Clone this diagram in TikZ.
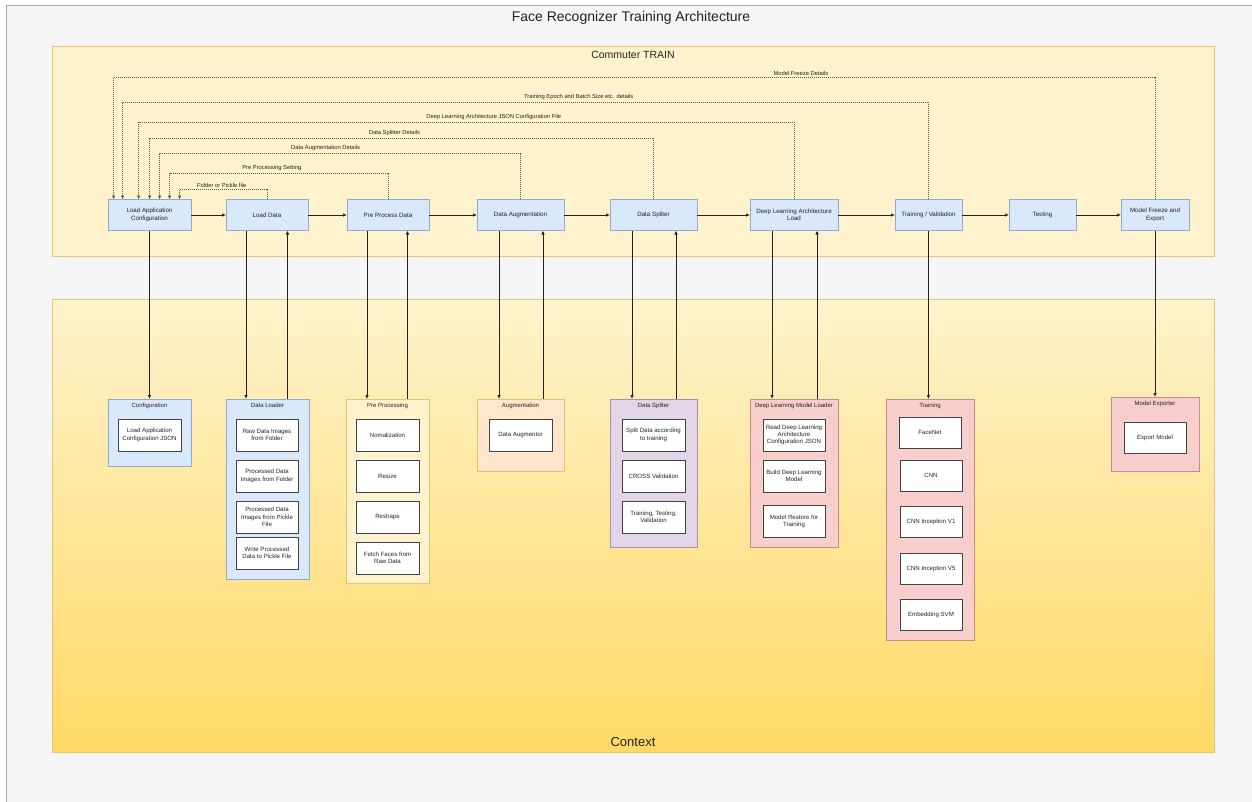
\documentclass[tikz,border=0pt]{standalone}
\usepackage{fontspec}
\setmainfont{Liberation Sans}
\usetikzlibrary{arrows.meta,calc}

\definecolor{pagebg}{HTML}{F5F5F5}
\definecolor{framec}{HTML}{A6A6A6}
\definecolor{ylfill}{HTML}{FFF2CC}
\definecolor{ylline}{HTML}{E0C774}
\definecolor{ylbottom}{HTML}{FFD966}
\definecolor{blfill}{HTML}{DAE8FC}
\definecolor{blline}{HTML}{8EA9D3}
\definecolor{orfill}{HTML}{FFE6CC}
\definecolor{orline}{HTML}{E8C266}
\definecolor{pufill}{HTML}{E1D5E7}
\definecolor{puline}{HTML}{A98CB8}
\definecolor{rdfill}{HTML}{F8CECC}
\definecolor{rdline}{HTML}{C98A87}
\definecolor{inkc}{HTML}{222222}
\definecolor{dotc}{HTML}{5A5A5A}

\tikzset{
  every node/.style={text=inkc},
  mainbox/.style={draw=blline, fill=blfill, line width=0.8pt, minimum height=31pt,
    align=center, inner sep=1pt, font=\fontsize{6.2}{7.4}\selectfont},
  group/.style={line width=0.8pt, inner sep=0pt},
  gtitle/.style={anchor=north, inner sep=0pt, font=\fontsize{6}{7}\selectfont},
  item/.style={draw=inkc!85, fill=white, line width=0.8pt, minimum width=63pt,
    minimum height=32pt, align=center, inner sep=1pt, font=\fontsize{6.1}{7.3}\selectfont},
  arr/.style={draw=inkc, line width=0.7pt, -{Triangle[length=3.6pt,width=3pt]}},
  fb/.style={draw=dotc, line width=0.6pt, dash pattern=on 1pt off 1pt,
    -{Triangle[length=3.6pt,width=3pt]}},
  lbl/.style={anchor=south, inner sep=1.6pt, font=\fontsize{5.8}{7}\selectfont},
}

\begin{document}
\begin{tikzpicture}[x=1pt, y=-1pt]
\useasboundingbox (0,0) rectangle (1252,801);
\fill[white] (0,0) rectangle (1252,801);
\draw[fill=pagebg, draw=framec, line width=0.8pt] (6,5) rectangle (1270,820);

\node (title) at (631,18) {\fontsize{14}{16}\selectfont Face Recognizer Training Architecture};

% the two swimlanes
\node[draw=ylline, fill=ylfill, line width=0.8pt, minimum width=1162pt, minimum height=210pt, inner sep=0pt]
  (train) at (633,151) {};
\node (train-t) at (633,55) {\fontsize{10.5}{12}\selectfont Commuter TRAIN};
\node[draw=ylline, top color=ylfill, bottom color=ylbottom, line width=0.8pt,
  minimum width=1162pt, minimum height=453pt, inner sep=0pt] (ctx) at (633,525.5) {};
\node (ctx-t) at (633,742) {\fontsize{13}{15}\selectfont Context};

% pipeline steps
\node[mainbox, minimum width=83pt] (lac)  at (149.5,215) {Load Application\\Configuration};
\node[mainbox, minimum width=82pt] (ld)   at (267,215)   {Load Data};
\node[mainbox, minimum width=82pt] (ppd)  at (388,215)   {Pre Process Data};
\node[mainbox, minimum width=87pt] (da)   at (520.5,215) {Data Augmentation};
\node[mainbox, minimum width=87pt] (ds)   at (653.5,215) {Data Spliter};
\node[mainbox, minimum width=88pt] (dla)  at (794,215)   {Deep Learning Architecture\\Load};
\node[mainbox, minimum width=67pt] (tv)   at (928.5,215) {Training / Validation};
\node[mainbox, minimum width=67pt] (test) at (1042.5,215){Testing};
\node[mainbox, minimum width=68pt] (mfe)  at (1155,215)  {Model Freeze and\\Export};

\foreach \a/\b in {lac/ld, ld/ppd, ppd/da, da/ds, ds/dla, dla/tv, tv/test, test/mfe}
  \draw[arr] (\a) -- (\b);

% configuration feedback into the first step
\coordinate (in1) at ([xshift=6pt]lac.north west);
\coordinate (in2) at ([xshift=15pt]lac.north west);
\coordinate (in3) at ([xshift=31pt]lac.north west);
\coordinate (in4) at ([xshift=42pt]lac.north west);
\coordinate (in5) at ([xshift=52pt]lac.north west);
\coordinate (in6) at ([xshift=62pt]lac.north west);
\coordinate (in7) at ([xshift=72pt]lac.north west);
\coordinate (h1) at (0,77);
\coordinate (h2) at (0,102);
\coordinate (h3) at (0,122);
\coordinate (h4) at (0,138);
\coordinate (h5) at (0,153);
\coordinate (h6) at (0,173);
\coordinate (h7) at (0,189);

\draw[fb] (mfe.north) -- (mfe.north |- h1) -| node[lbl, pos=0.170] {Model Freeze Details} (in1);
\draw[fb] (tv.north)  -- (tv.north |- h2)  -| node[lbl, pos=0.217] {Training Epoch and Batch Size etc. details} (in2);
\draw[fb] (dla.north) -- (dla.north |- h3) -| node[lbl, pos=0.229] {Deep Learning Architecture JSON Configuration File} (in3);
\draw[fb] (ds.north)  -- (ds.north |- h4)  -| node[lbl, pos=0.257] {Data Splitter Details} (in4);
\draw[fb] (da.north)  -- (da.north |- h5)  -| node[lbl, pos=0.270] {Data Augmentation Details} (in5);
\draw[fb] (ppd.north) -- (ppd.north |- h6) -| node[lbl, pos=0.266] {Pre Processing Setting} (in6);
\draw[fb] (ld.north)  -- (ld.north |- h7)  -| node[lbl, pos=0.259] {Folder or Pickle file} (in7);

% component groups
\node[group, draw=blline, fill=blfill, minimum width=83pt, minimum height=67pt]  (cfg) at (149.5,432.5) {};
\node[group, draw=blline, fill=blfill, minimum width=83pt, minimum height=180pt] (dl)  at (267.5,489) {};
\node[group, draw=ylline, fill=ylfill, minimum width=83pt, minimum height=184pt] (pp)  at (387.5,491) {};
\node[group, draw=orline, fill=orfill, minimum width=87pt, minimum height=72pt]  (aug) at (520.5,435) {};
\node[group, draw=puline, fill=pufill, minimum width=87pt, minimum height=148pt] (dsp) at (653.5,473) {};
\node[group, draw=rdline, fill=rdfill, minimum width=88pt, minimum height=148pt] (dml) at (794,473) {};
\node[group, draw=rdline, fill=rdfill, minimum width=88pt, minimum height=241pt] (trn) at (930,519.5) {};
\node[group, draw=rdline, fill=rdfill, minimum width=88pt, minimum height=74pt]  (mex) at (1155,434) {};

\node[gtitle] (cfg-t) at ([yshift=-4pt]cfg.north) {Configuration};
\node[gtitle] (dl-t)  at ([yshift=-4pt]dl.north)  {Data Loader};
\node[gtitle] (pp-t)  at ([yshift=-4pt]pp.north)  {Pre Processing};
\node[gtitle] (aug-t) at ([yshift=-4pt]aug.north) {Augmentation};
\node[gtitle] (dsp-t) at ([yshift=-4pt]dsp.north) {Data Spliter};
\node[gtitle] (dml-t) at ([yshift=-4pt]dml.north) {Deep Learning Model Loader};
\node[gtitle] (trn-t) at ([yshift=-4pt]trn.north) {Training};
\node[gtitle] (mex-t) at ([yshift=-4pt]mex.north) {Model Exporter};

% group contents
\node[item] (cfg1) at (149.5,435) {Load Application\\Configuration JSON};

\node[item, minimum width=62pt] (dl1) at (267,435) {Raw Data Images\\from Folder};
\node[item, minimum width=62pt] (dl2) at (267,476) {Processed Data\\Images from Folder};
\node[item, minimum width=62pt] (dl3) at (267,517) {Processed Data\\Images from Pickle\\File};
\node[item, minimum width=62pt] (dl4) at (267,553) {Write Processed\\Data to Pickle File};

\node[item] (pp1) at (387.5,435) {Nomalization};
\node[item] (pp2) at (387.5,476) {Resize};
\node[item] (pp3) at (387.5,517) {Reshape};
\node[item] (pp4) at (387.5,558) {Fetch Faces from\\Raw Data};

\node[item] (aug1) at (520.5,435) {Data Augmentor};

\node[item] (dsp1) at (653.5,435) {Split Data according\\to training};
\node[item] (dsp2) at (653.5,476) {CROSS Validation};
\node[item] (dsp3) at (653.5,517) {Training, Testing,\\Validation};

\node[item, minimum width=62pt] (dml1) at (794,435)   {Read Deep Learning\\Architecture\\Configuration JSON};
\node[item, minimum width=62pt] (dml2) at (794,476)   {Build Deep Learning\\Model};
\node[item, minimum width=62pt] (dml3) at (794,521.5) {Model Restore for\\Training};

\node[item, minimum width=62pt, minimum height=31pt] (trn1) at (930,432.5) {FaceNet};
\node[item, minimum width=62pt, minimum height=31pt] (trn2) at (931,475.5) {CNN};
\node[item, minimum width=62pt, minimum height=31pt] (trn3) at (931,521.5) {CNN Inception V1};
\node[item, minimum width=62pt, minimum height=31pt] (trn4) at (931,568.5) {CNN Inception V5};
\node[item, minimum width=62pt, minimum height=31pt] (trn5) at (931,614.5) {Embedding SVM};

\node[item, minimum width=62pt, minimum height=31pt] (mex1) at (1155,437.5) {Export Model};

% calls down into the groups and results back up
\draw[arr] (lac.south) -- (cfg.north);
\draw[arr] ([xshift=-21pt]ld.south) coordinate (d1) -- (d1 |- dl.north);
\draw[arr] ([xshift=20pt]dl.north) coordinate (u1) -- (u1 |- ld.south);
\draw[arr] ([xshift=-21pt]ppd.south) coordinate (d2) -- (d2 |- pp.north);
\draw[arr] ([xshift=20pt]pp.north) coordinate (u2) -- (u2 |- ppd.south);
\draw[arr] ([xshift=-21.5pt]da.south) coordinate (d3) -- (d3 |- aug.north);
\draw[arr] ([xshift=22.5pt]aug.north) coordinate (u3) -- (u3 |- da.south);
\draw[arr] ([xshift=-21.5pt]ds.south) coordinate (d4) -- (d4 |- dsp.north);
\draw[arr] ([xshift=22.5pt]dsp.north) coordinate (u4) -- (u4 |- ds.south);
\draw[arr] ([xshift=-22pt]dla.south) coordinate (d5) -- (d5 |- dml.north);
\draw[arr] ([xshift=23pt]dml.north) coordinate (u5) -- (u5 |- dla.south);
\draw[arr] (tv.south) coordinate (d6) -- (d6 |- trn.north);
\draw[arr] (mfe.south) -- (mex.north);
\end{tikzpicture}
\end{document}
